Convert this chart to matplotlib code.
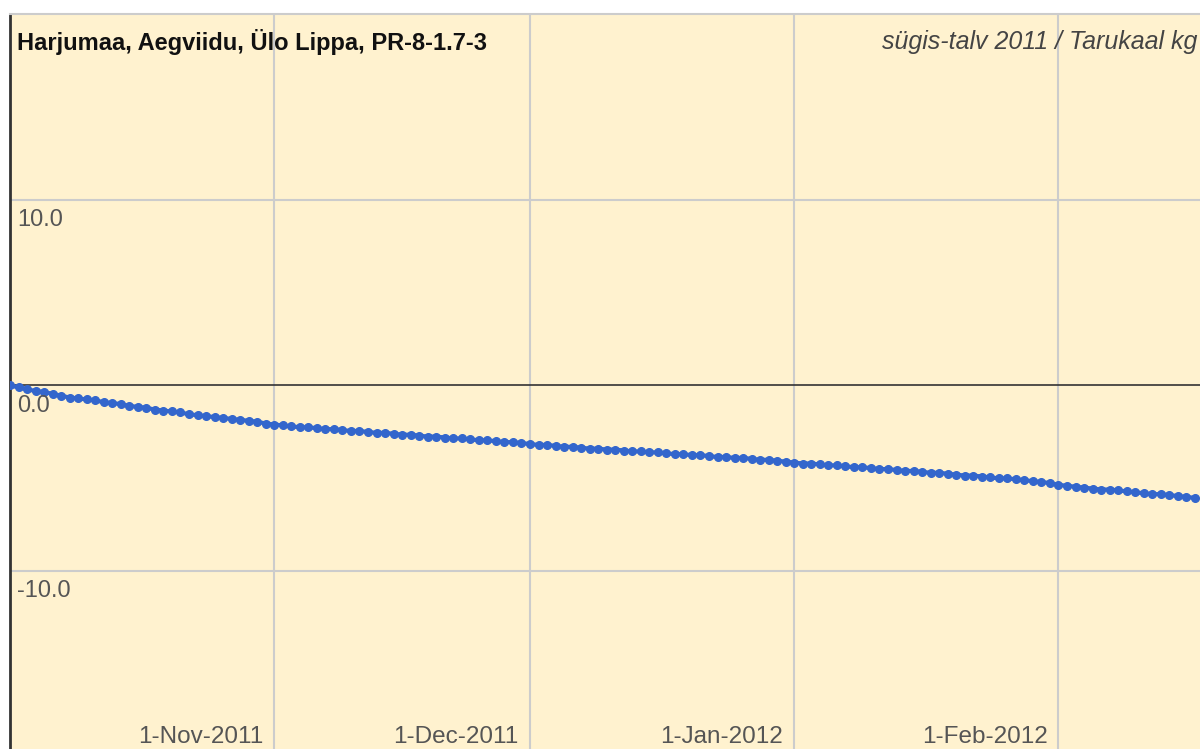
import numpy as np
import pandas as pd
import matplotlib
matplotlib.use("Agg")
import matplotlib.pyplot as plt
import matplotlib.dates as mdates
import matplotlib.transforms as mtransforms

# daily hive weight change (kg), 1 Oct 2011 onward
oct_vals = [0.0, -0.1, -0.2, -0.3, -0.35, -0.45, -0.55, -0.65, -0.7, -0.75, -0.8,
            -0.9, -0.95, -1.0, -1.1, -1.15, -1.2, -1.3, -1.35, -1.4, -1.45, -1.55,
            -1.6, -1.65, -1.7, -1.75, -1.8, -1.85, -1.9, -1.95, -2.05]
nov_vals = [-2.1, -2.15, -2.2, -2.25, -2.25, -2.3, -2.35, -2.35, -2.4, -2.45, -2.45,
            -2.5, -2.55, -2.55, -2.6, -2.65, -2.65, -2.7, -2.75, -2.75, -2.8, -2.85,
            -2.85, -2.9, -2.95, -2.95, -3.0, -3.05, -3.05, -3.1]
dec_vals = [-3.15, -3.2, -3.2, -3.25, -3.3, -3.3, -3.35, -3.4, -3.4, -3.45, -3.45,
            -3.5, -3.55, -3.55, -3.6, -3.6, -3.65, -3.7, -3.7, -3.75, -3.75, -3.8,
            -3.85, -3.85, -3.9, -3.9, -3.95, -4.0, -4.0, -4.05, -4.1]
jan_vals = [-4.15, -4.2, -4.2, -4.25, -4.3, -4.3, -4.35, -4.4, -4.4, -4.45, -4.5,
            -4.5, -4.55, -4.6, -4.6, -4.65, -4.7, -4.7, -4.75, -4.8, -4.85, -4.85,
            -4.9, -4.95, -5.0, -5.0, -5.05, -5.1, -5.15, -5.2, -5.25]
feb_vals = [-5.35, -5.4, -5.45, -5.5, -5.55, -5.6, -5.6, -5.65, -5.7, -5.75, -5.8,
            -5.85, -5.85, -5.9, -5.95, -6.0, -6.05]

weights = oct_vals + nov_vals + dec_vals + jan_vals + feb_vals
dates = pd.date_range("2011-10-01", periods=len(weights), freq="D")

tick_dates = ["2011-11-01", "2011-12-01", "2012-01-01", "2012-02-01"]
tick_labels = ["1-Nov-2011", "1-Dec-2011", "1-Jan-2012", "1-Feb-2012"]
y_ticks = [10.0, 0.0, -10.0]
y_labels = ["10.0", "0.0", "-10.0"]

title_left = "Harjumaa, Aegviidu, Ülo Lippa, PR-8-1.7-3"
title_right = "sügis-talv 2011 / Tarukaal kg"

plt.rcParams['font.family'] = ['Liberation Sans', 'DejaVu Sans']

fig = plt.figure(figsize=(12, 7.49), dpi=100)
fig.patch.set_facecolor("white")
ax = fig.add_axes([10 / 1200, 0, 1190 / 1200, 735 / 749])
ax.set_facecolor("#FFF2CF")

ax.set_xlim(pd.Timestamp("2011-10-01"), pd.Timestamp("2011-10-01") + pd.Timedelta(days=139.6))
ax.set_ylim(-19.57, 20)

# grid
for d in tick_dates:
    ax.axvline(pd.Timestamp(d), color="#CCCCCC", lw=1.5, zorder=1)
for v in y_ticks:
    if v == 0:
        ax.axhline(v, color="#333333", lw=1.2, zorder=2)
    else:
        ax.axhline(v, color="#CCCCCC", lw=1.5, zorder=1)

ax.plot(dates, weights, color="#3366CC", lw=3, marker="o", markersize=5.5,
        zorder=3, clip_on=True)

ax.set_xticks([])
ax.set_yticks([])
for s in ["right", "bottom"]:
    ax.spines[s].set_visible(False)
ax.spines["top"].set_color("#CCCCCC")
ax.spines["top"].set_linewidth(1.5)
ax.spines["left"].set_color("#333333")
ax.spines["left"].set_linewidth(2)

# y labels inside plot
ytr = mtransforms.blended_transform_factory(ax.transAxes, ax.transData)
for v, lab in zip(y_ticks, y_labels):
    ax.annotate(lab, xy=(0, v), xycoords=ytr, xytext=(5, -6.5),
                textcoords="offset points", ha="left", va="top",
                fontsize=17, color="#555555")

# x labels at bottom
xtr = mtransforms.blended_transform_factory(ax.transData, ax.transAxes)
for d, lab in zip(tick_dates, tick_labels):
    ax.annotate(lab, xy=(mdates.date2num(pd.Timestamp(d)), 0), xycoords=xtr,
                xytext=(-8, 1), textcoords="offset points", ha="right",
                va="bottom", fontsize=17.5, color="#555555")

ax.text(0.006, 0.962, title_left, transform=ax.transAxes, ha="left", va="center",
        fontsize=17, fontweight="bold", color="#111111")
ax.text(0.998, 0.962, title_right, transform=ax.transAxes, ha="right", va="center",
        fontsize=18, style="italic", color="#444444")

fig.savefig("out.png", dpi=100)
